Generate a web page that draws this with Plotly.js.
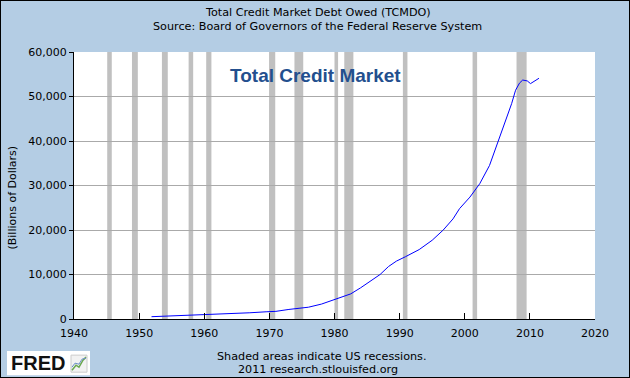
<!DOCTYPE html>
<html>
<head>
<meta charset="utf-8">
<script src="https://cdn.plot.ly/plotly-3.0.1.min.js"></script>
<style>
html,body{margin:0;padding:0;background:#b4cde4;}
#wrap{width:630px;height:378px;box-sizing:border-box;border:1px solid #000;background:#b4cde4;}
#chart{width:628px;height:376px;}
</style>
</head>
<body>
<div id="wrap"><div id="chart"></div></div>
<script>
// Data: Total Credit Market Debt Owed (billions of dollars)
var years = [1951.9, 1955.0, 1958.0, 1961.0, 1964.5, 1967.0, 1969.5, 1971.0, 1973.0, 1976.0, 1978.0, 1980.0, 1982.5, 1984.0, 1985.7, 1987.0, 1988.3, 1989.5, 1990.9, 1993.0, 1995.0, 1996.7, 1998.2, 1999.2, 2000.8, 2002.3, 2003.8, 2004.5, 2005.1, 2006.4, 2007.2, 2007.8, 2008.4, 2008.9, 2009.6, 2010.1, 2010.7, 2011.4];
var debt = [520, 700, 820, 970, 1150, 1400, 1620, 1720, 2150, 2650, 3350, 4350, 5650, 7000, 8600, 10000, 11800, 13000, 14000, 15600, 17700, 20000, 22500, 24800, 27400, 30400, 34500, 37300, 40000, 45000, 48400, 51400, 53000, 53700, 53500, 52900, 53500, 54100];
// Recession periods (start, end)
var recStart = [1945.1, 1948.9, 1953.5, 1957.6, 1960.3, 1969.95, 1973.85, 1980.0, 1981.5, 1990.5, 2001.2, 2007.95];
var recEnd   = [1945.8, 1949.8, 1954.4, 1958.3, 1961.1, 1970.9, 1975.2, 1980.55, 1982.9, 1991.2, 2001.9, 2009.5];
var xTicks = [1940, 1950, 1960, 1970, 1980, 1990, 2000, 2010, 2020];
var yTicks = [0, 10000, 20000, 30000, 40000, 50000, 60000];
var yTickText = ['0', '10,000', '20,000', '30,000', '40,000', '50,000', '60,000'];

function px(x){ return (x - 74) / 521; }
function py(y){ return (318 - y) / 266; }

var shapes = [];
for (var i = 0; i < recStart.length; i++) {
  shapes.push({type:'rect', xref:'x', yref:'paper', x0:recStart[i], x1:recEnd[i], y0:0, y1:1,
    fillcolor:'#c0c0c0', line:{width:0}, layer:'below'});
}
// FRED logo box
shapes.push({type:'rect', xref:'paper', yref:'paper', x0:px(7), x1:px(90), y0:py(374), y1:py(350),
  fillcolor:'#ffffff', line:{width:0}});
shapes.push({type:'rect', xref:'paper', yref:'paper', x0:px(71), x1:px(87), y0:py(371), y1:py(354),
  fillcolor:'#f2f2f2', line:{width:1, color:'#cccccc'}});
shapes.push({type:'path', xref:'paper', yref:'paper',
  path:'M '+px(72)+' '+py(369)+' L '+px(76)+' '+py(364)+' L '+px(79)+' '+py(366)+' L '+px(83)+' '+py(359)+' L '+px(86)+' '+py(356),
  line:{width:1.5, color:'#6aa84f'}});
shapes.push({type:'path', xref:'paper', yref:'paper',
  path:'M '+px(72)+' '+py(366)+' L '+px(75)+' '+py(362)+' L '+px(79)+' '+py(363)+' L '+px(82)+' '+py(358)+' L '+px(86)+' '+py(357),
  line:{width:1, color:'#6d8fc7'}});

var fontMain = 'DejaVu Sans, Verdana, sans-serif';
var annotations = [
  {text:'Total Credit Market Debt Owed (TCMDO)', xref:'paper', yref:'paper', x:px(317.5), y:py(13), showarrow:false,
   xanchor:'center', yanchor:'middle', font:{family:fontMain, size:11.2, color:'#000'}},
  {text:'Source: Board of Governors of the Federal Reserve System', xref:'paper', yref:'paper', x:px(317.5), y:py(27), showarrow:false,
   xanchor:'center', yanchor:'middle', font:{family:fontMain, size:11.2, color:'#000'}},
  {text:'<b>Total Credit Market</b>', xref:'paper', yref:'paper', x:px(315.5), y:py(75), showarrow:false,
   xanchor:'center', yanchor:'middle', font:{family:'Liberation Sans, Arial, sans-serif', size:19, color:'#234f8e'}},
  {text:'(Billions of Dollars)', xref:'paper', yref:'paper', x:px(13), y:py(197), showarrow:false, textangle:-90,
   xanchor:'center', yanchor:'middle', font:{family:fontMain, size:11, color:'#000'}},
  {text:'Shaded areas indicate US recessions.', xref:'paper', yref:'paper', x:px(321.5), y:py(355), showarrow:false,
   xanchor:'center', yanchor:'middle', font:{family:fontMain, size:11.2, color:'#000'}},
  {text:'2011 research.stlouisfed.org', xref:'paper', yref:'paper', x:px(318), y:py(368), showarrow:false,
   xanchor:'center', yanchor:'middle', font:{family:fontMain, size:11.2, color:'#000'}},
  {text:'<b>FRED</b>', xref:'paper', yref:'paper', x:px(38), y:py(362), showarrow:false,
   xanchor:'center', yanchor:'middle', font:{family:'Liberation Sans, Arial, sans-serif', size:20, color:'#111'}}
];

var trace = {x: years, y: debt, type:'scatter', mode:'lines', line:{color:'#0000ff', width:1}, hoverinfo:'skip'};

var layout = {
  width:628, height:376,
  margin:{l:73, r:34, t:51, b:58, pad:0},
  paper_bgcolor:'#b4cde4', plot_bgcolor:'#ffffff',
  showlegend:false,
  xaxis:{range:[1940, 2020], tickvals:xTicks, ticktext:xTicks.map(String), ticks:'inside', ticklen:6, tickcolor:'#000', tickwidth:1,
    showgrid:false, zeroline:false, showline:true, linecolor:'#000', linewidth:1, ticklabelstandoff:4,
    tickfont:{family:fontMain, size:11, color:'#000'}, fixedrange:true},
  yaxis:{range:[0, 60000], tickvals:yTicks, ticktext:yTickText, ticks:'outside', ticklen:4, tickcolor:'#000',
    showgrid:true, gridcolor:'#aaaaaa', gridwidth:1, zeroline:false, showline:true, linecolor:'#000', linewidth:1,
    tickfont:{family:fontMain, size:11, color:'#000'}, fixedrange:true},
  shapes:shapes,
  annotations:annotations
};

Plotly.newPlot('chart', [trace], layout, {displayModeBar:false, staticPlot:true});
</script>
</body>
</html>
